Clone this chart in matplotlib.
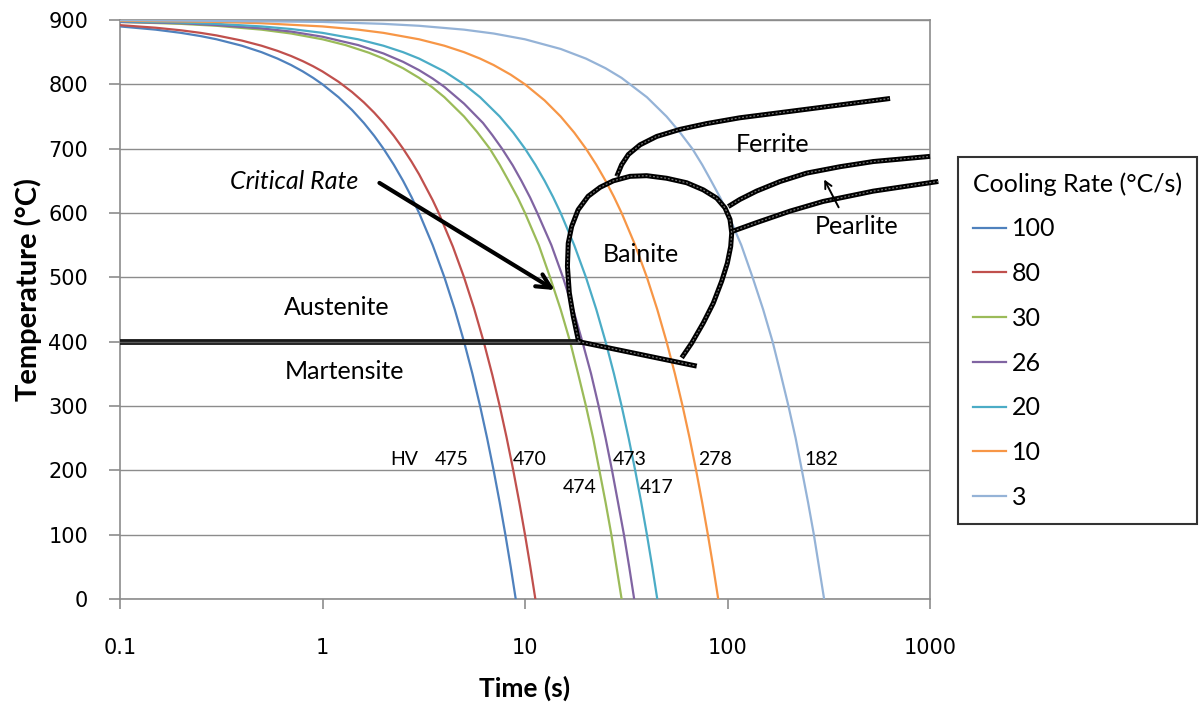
"""
CCT diagram: cooling curves over the phase regions.
"""

import matplotlib
matplotlib.use("Agg")
import matplotlib.pyplot as plt

# cooling curves (time in s, temperature in degC)
RATES = ["100", "80", "30", "26", "20", "10", "3"]

TIME_100 = [0.1, 0.15, 0.2, 0.25, 0.3, 0.4, 0.5, 0.6, 0.7, 0.8, 0.9, 1.0,
            1.2, 1.4, 1.6, 1.8, 2.0, 2.25, 2.5, 2.75, 3.0, 3.5, 4.0, 4.5,
            5.0, 5.5, 6.0, 6.5, 7.0, 7.5, 8.0, 8.5, 9.0]
TEMP_100 = [890, 885, 880, 875, 870, 860, 850, 840, 830, 820, 810, 800,
            780, 760, 740, 720, 700, 675, 650, 625, 600, 550, 500, 450,
            400, 350, 300, 250, 200, 150, 100, 50, 0]

TIME_80 = [0.1, 0.15, 0.2, 0.25, 0.3, 0.4, 0.5, 0.6, 0.7, 0.8, 0.9, 1.0,
           1.2, 1.4, 1.6, 1.8, 2.0, 2.25, 2.5, 2.75, 3.0, 3.5, 3.75, 4.4,
           5.0, 5.6, 6.25, 6.9, 7.5, 8.1, 8.75, 9.4, 10.0, 10.6, 11.25]
TEMP_80 = [892, 888, 884, 880, 876, 868, 860, 852, 844, 836, 828, 820,
           804, 788, 772, 756, 740, 720, 700, 680, 660, 620, 600, 548,
           500, 452, 400, 348, 300, 252, 200, 148, 100, 52, 0]

TIME_30 = [0.1, 0.2, 0.3, 0.5, 0.7, 1.0, 1.3, 1.7, 2.0, 2.5, 3.0, 3.5, 4.0,
           5.0, 5.8, 6.7, 7.5, 8.3, 9.2, 10.0, 11.7, 13.3, 15.0, 16.7, 18.3,
           20.0, 21.7, 23.3, 25.0, 26.7, 28.3, 30.0]
TEMP_30 = [897, 894, 891, 885, 879, 870, 861, 849, 840, 825, 810, 795, 780,
           750, 726, 700, 675, 650, 624, 600, 550, 500, 450, 400, 350,
           300, 250, 200, 150, 100, 50, 0]

TIME_26 = [0.1, 0.2, 0.3, 0.5, 0.7, 1.0, 1.5, 2.0, 2.5, 3.0, 3.5, 4.0, 5.0,
           6.2, 6.9, 7.7, 8.7, 9.6, 10.6, 11.5, 13.5, 15.4, 17.3, 19.2, 21.2,
           23.1, 25.0, 26.9, 28.8, 30.8, 32.7, 34.6]
TEMP_26 = [897, 895, 892, 887, 882, 874, 861, 848, 835, 822, 809, 796, 770,
           740, 721, 700, 674, 650, 624, 600, 550, 500, 450, 400, 350,
           300, 250, 200, 150, 100, 50, 0]

TIME_20 = [0.1, 0.2, 0.3, 0.5, 0.7, 1.0, 1.5, 2.0, 2.5, 3.0, 4.0, 5.0, 6.0,
           7.5, 8.75, 10.0, 11.25, 12.5, 13.75, 15.0, 17.5, 20.0, 22.5, 25.0,
           27.5, 30.0, 32.5, 35.0, 37.5, 40.0, 42.5, 45.0]
TEMP_20 = [898, 896, 894, 890, 886, 880, 870, 860, 850, 840, 820, 800, 780,
           750, 725, 700, 675, 650, 625, 600, 550, 500, 450, 400,
           350, 300, 250, 200, 150, 100, 50, 0]

TIME_10 = [0.1, 0.3, 0.5, 1, 1.5, 2, 3, 4, 5, 6, 7, 8.5, 10, 12.5, 15, 17.5,
           20, 22.5, 25, 27.5, 30, 35, 40, 45, 50, 55, 60, 65, 70, 75, 80,
           85, 90]
TEMP_10 = [899, 897, 895, 890, 885, 880, 870, 860, 850, 840, 830, 815, 800,
           775, 750, 725, 700, 675, 650, 625, 600, 550, 500, 450, 400, 350,
           300, 250, 200, 150, 100, 50, 0]

TIME_3 = [0.1, 1, 2, 3, 5, 7, 10, 15, 20, 25, 30, 40, 50, 58, 67, 75, 83, 92,
          100, 117, 133, 150, 167, 183, 200, 217, 233, 250, 267, 283, 300]
TEMP_3 = [900, 897, 894, 891, 885, 879, 870, 855, 840, 825, 810, 780, 750,
          726, 700, 675, 650, 624, 600, 550, 500, 450, 400, 350, 300, 250,
          200, 150, 100, 50, 0]

CURVE_TIMES = [TIME_100, TIME_80, TIME_30, TIME_26, TIME_20, TIME_10, TIME_3]
CURVE_TEMPS = [TEMP_100, TEMP_80, TEMP_30, TEMP_26, TEMP_20, TEMP_10, TEMP_3]

COLORS = ["#4F81BD", "#C0504D", "#9BBB59", "#8064A2", "#4BACC6", "#F79646",
          "#95B3D7"]

# phase boundaries
MS_TIME = [0.1, 18.4]
MS_TEMP = [400, 400]

BAINITE_TIME = [18.4, 17.3, 16.55, 16.2, 16.35, 17.0, 18.3, 20.5, 23.5, 27.3,
                33.0, 39.9, 50.1, 62.9, 75.9, 88.5, 97.2, 102.9, 104.9, 103.7,
                99.8, 93.6, 85.1, 75.9, 66.6, 59.4]
BAINITE_TEMP = [400, 440, 476, 517, 553, 579, 605, 626, 640, 650,
                657, 658, 654, 647, 636, 623, 608, 590, 569, 548,
                522, 494, 460, 429, 398, 375]

BAINITE_FINISH_TIME = [18.4, 70.5]
BAINITE_FINISH_TEMP = [400, 362]

FERRITE_TIME = [28.4, 30.0, 32.4, 37.0, 44.7, 58.3, 78.9, 115, 204, 360, 635]
FERRITE_TEMP = [657, 675, 691, 706, 719, 730, 739, 748, 758, 768, 778]

PEARLITE_START_TIME = [100.9, 115, 139, 182, 246, 360, 525, 1000]
PEARLITE_START_TEMP = [610, 621, 634, 649, 662, 672, 680, 688]

PEARLITE_END_TIME = [106.8, 139, 204, 297, 525, 1099]
PEARLITE_END_TEMP = [572, 585, 603, 618, 634, 649]

# hardness labels
HV_LABELS = ["HV", "475", "470", "473", "278", "182", "474", "417"]
HV_TIME = [2.53, 4.36, 10.6, 33.0, 86.7, 289.5, 18.7, 44.9]
HV_TEMP = [217, 217, 217, 217, 217, 217, 174, 174]

GRID = "#8c8c8c"


def boundary(ax, t, T, lw=3.6):
    ax.plot(t, T, color="black", lw=lw, solid_capstyle="butt",
            solid_joinstyle="round", clip_on=False, zorder=4)
    ax.plot(t, T, color="#777777", lw=0.9, ls=(0, (1.5, 1.5)),
            clip_on=False, zorder=5)


def main():
    plt.rcParams["font.family"] = ["Lato", "DejaVu Sans"]

    fig = plt.figure(figsize=(12.04, 7.08), dpi=100)
    ax = fig.add_axes([120 / 1204, 109 / 708, 810 / 1204, 579 / 708])

    for t, T, c, r in zip(CURVE_TIMES, CURVE_TEMPS, COLORS, RATES):
        ax.plot(t, T, color=c, lw=1.6, label=r, zorder=3)

    ax.plot(MS_TIME, MS_TEMP, color="#1a1a1a", lw=4.2, zorder=4)
    ax.plot(MS_TIME, MS_TEMP, color="#5a5a5a", lw=1.0, zorder=5)
    boundary(ax, BAINITE_TIME, BAINITE_TEMP)
    boundary(ax, BAINITE_FINISH_TIME, BAINITE_FINISH_TEMP)
    boundary(ax, FERRITE_TIME, FERRITE_TEMP)
    boundary(ax, PEARLITE_START_TIME, PEARLITE_START_TEMP)
    boundary(ax, PEARLITE_END_TIME, PEARLITE_END_TEMP)

    ax.set_xscale("log")
    ax.set_xlim(0.1, 1000)
    ax.set_ylim(0, 900)
    ax.set_xticks([0.1, 1, 10, 100, 1000])
    ax.set_xticklabels(["0.1", "1", "10", "100", "1000"])
    ax.set_xticks([], minor=True)
    ax.set_yticks(range(0, 901, 100))

    ax.yaxis.grid(True, color=GRID, lw=1.0)
    ax.set_axisbelow(True)
    for side in ["left", "bottom", "right", "top"]:
        ax.spines[side].set_color(GRID)
        ax.spines[side].set_linewidth(1.2)

    ax.tick_params(axis="y", length=8, width=1.2, color=GRID, pad=15,
                   labelsize=15, labelfontfamily="DejaVu Sans")
    ax.tick_params(axis="x", length=7, width=1.2, color=GRID, pad=21,
                   labelsize=15, labelfontfamily="DejaVu Sans")

    ax.set_xlabel("Time (s)", fontsize=19, fontweight="bold")
    ax.xaxis.set_label_coords(0.5, -0.132)
    ax.set_ylabel("Temperature (°C)", fontsize=21, fontweight="bold")
    ax.yaxis.set_label_coords(-0.096, 0.534)

    # region names
    ax.text(166, 706, "Ferrite", fontsize=18, ha="center", va="center")
    ax.text(436, 579, "Pearlite", fontsize=18, ha="center", va="center")
    ax.text(37.4, 535, "Bainite", fontsize=18, ha="center", va="center")
    ax.text(1.18, 453, "Austenite", fontsize=18, ha="center", va="center")
    ax.text(1.29, 354, "Martensite", fontsize=18, ha="center", va="center")
    ax.text(0.723, 649, "Critical Rate", fontsize=18, style="italic",
            ha="center", va="center")

    ax.annotate("", xy=(14.4, 478), xytext=(1.86, 649),
                arrowprops=dict(arrowstyle="->,head_length=1.0,head_width=0.5",
                                color="black", lw=3), zorder=6)
    ax.annotate("", xy=(296, 656), xytext=(359, 605),
                arrowprops=dict(arrowstyle="->,head_length=0.5,head_width=0.25",
                                color="black", lw=1.4), zorder=6)

    for s, t, T in zip(HV_LABELS, HV_TIME, HV_TEMP):
        ax.text(t, T, s, fontsize=14, ha="center", va="center", zorder=7)

    leg = ax.legend(title="Cooling Rate (°C/s)", loc="upper left",
                    bbox_to_anchor=(958 / 1204, 551 / 708),
                    bbox_transform=fig.transFigure, fontsize=18,
                    title_fontsize=18, frameon=True, fancybox=False,
                    handlelength=1.3, handletextpad=0.25, labelspacing=0.87,
                    borderpad=0.6, borderaxespad=0, alignment="left")
    leg.get_frame().set_edgecolor("black")
    leg.get_frame().set_linewidth(1.5)

    fig.savefig("out.png", dpi=100)
    plt.close(fig)


if __name__ == "__main__":
    main()
